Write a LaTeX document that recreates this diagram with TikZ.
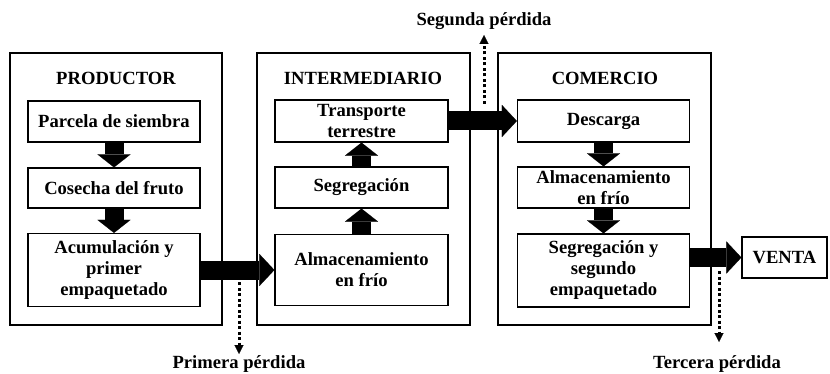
\documentclass[tikz,border=0pt]{standalone}
\usepackage{fontspec}
\setmainfont{Liberation Serif}
\usetikzlibrary{arrows.meta}

\tikzset{
    etapa/.style={draw, line width=1.2pt, minimum width=172pt, inner sep=1pt, align=center,
        font=\bfseries\fontsize{18.6}{21}\selectfont},
    actor/.style={draw, line width=2pt},
    titulo/.style={font=\bfseries\fontsize{18.6}{21}\selectfont},
    flecha/.style={line width=19pt, -{Triangle[length=15pt,width=32pt,line width=0.1pt]}},
    flechita/.style={line width=19pt, -{Triangle[length=13pt,width=33pt,line width=0.1pt]}},
    perdida/.style={line width=3pt, dash pattern=on 3pt off 2.5pt, -{Triangle[length=9pt,width=9pt,line width=0.1pt]}},
}

\begin{document}
\begin{tikzpicture}[x=1pt,y=-1pt]
    \useasboundingbox (0,0) rectangle (830,374);

    % Actors
    \draw[actor] (10,53) rectangle (222,325);
    \draw[actor] (257,53) rectangle (470,325);
    \draw[actor] (498,53) rectangle (711,325);
    \node[titulo] (tprod) at (116,78) {PRODUCTOR};
    \node[titulo] (tinter) at (363,78) {INTERMEDIARIO};
    \node[titulo] (tcom) at (605,78) {COMERCIO};

    % Productor
    \node[etapa, minimum height=41pt] (parcela) at (114,121.5) {Parcela de siembra};
    \node[etapa, minimum height=40pt] (cosecha) at (114,188) {Cosecha del fruto};
    \node[etapa, minimum height=73pt] (acumula) at (114,270) {Acumulación y\\primer\\empaquetado};

    % Intermediario
    \node[etapa, minimum width=173pt, minimum height=42pt] (transp) at (361.5,121) {Transporte\\terrestre};
    \node[etapa, minimum width=173pt, minimum height=41pt] (segreg) at (361.5,187.5) {Segregación};
    \node[etapa, minimum width=173pt, minimum height=71pt] (almint) at (361.5,270) {Almacenamiento\\en frío};

    % Comercio
    \node[etapa, minimum height=42pt] (descarga) at (603.5,121) {Descarga};
    \node[etapa, minimum height=41pt] (almcom) at (603.5,187.5) {Almacenamiento\\en frío};
    \node[etapa, minimum height=73pt] (segemp) at (603.5,270.5) {Segregación y\\segundo\\empaquetado};

    \node[etapa, minimum width=85pt, minimum height=41pt] (venta) at (784.5,257.5) {VENTA};

    % Flow
    \draw[flechita] (parcela) -- (cosecha);
    \draw[flechita] (cosecha) -- (acumula);
    \draw[flechita] (almint) -- (segreg);
    \draw[flechita] (segreg) -- (transp);
    \draw[flechita] (descarga) -- (almcom);
    \draw[flechita] (almcom) -- (segemp);
    \draw[flecha] (acumula) -- (almint);
    \draw[flecha] (transp) -- (descarga);
    \draw[flecha] (segemp.east |- venta) -- (venta);

    % Losses
    \node[titulo] (primera) at (239,364) {Primera pérdida};
    \node[titulo] (segunda) at (484,21) {Segunda pérdida};
    \node[titulo] (tercera) at (717,364) {Tercera pérdida};
    \coordinate (p1) at (239,282);
    \coordinate (p1e) at (239,354);
    \coordinate (p2) at (484,104);
    \coordinate (p2e) at (484,35);
    \coordinate (p3) at (719,271);
    \coordinate (p3e) at (719,342);
    \draw[perdida] (p1) -- (p1e);
    \draw[perdida] (p2) -- (p2e);
    \draw[perdida] (p3) -- (p3e);
\end{tikzpicture}
\end{document}
